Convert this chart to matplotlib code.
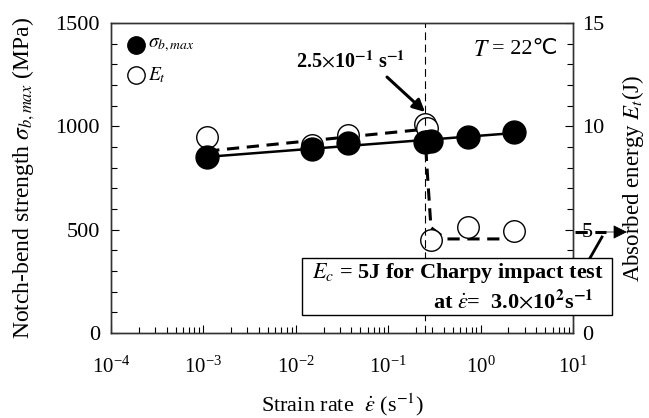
import matplotlib
matplotlib.use("Agg")
import matplotlib.pyplot as plt
import numpy as np
from matplotlib.patches import Rectangle
from matplotlib.lines import Line2D
from matplotlib.ticker import MultipleLocator, LogLocator, NullFormatter

plt.rcParams['font.family'] = ['Liberation Serif', 'DejaVu Serif']
plt.rcParams['mathtext.fontset'] = 'stix'
plt.rcParams['font.size'] = 16

# notch-bend strength vs strain rate
sig_rate = [1.1e-3, 0.015, 0.037, 0.25, 0.29, 0.73, 2.3]
sig_max = [850, 890, 918, 925, 930, 950, 972]

# absorbed energy vs strain rate
e_rate = [1.1e-3, 0.015, 0.037, 0.25, 0.26, 0.29, 0.73, 2.3]
e_t = [9.5, 9.1, 9.6, 10.1, 9.9, 4.5, 5.15, 4.95]

# trend of absorbed energy (drop at the transition rate)
trend_rate = [1.1e-3, 0.24, 0.25, 0.26, 0.29, 0.42, 2.0]
trend_e = [8.8, 9.85, 9.85, 8.3, 5.1, 4.55, 4.55]

transition_rate = 0.25
charpy_e = 5

W, H = 649, 418


def fx(px):
    return px / W


def fy(py):
    return (H - py) / H


fig = plt.figure(figsize=(6.49, 4.18), dpi=100)
ax = fig.add_axes([0.171, 0.2033, 0.712, 0.742])
ax2 = ax.twinx()

ax.set_xscale('log')
ax.set_xlim(1e-4, 1e1)
ax.set_ylim(0, 1500)
ax2.set_ylim(0, 15)

# straight fit through the strength data
coef = np.polyfit(np.log10(sig_rate), sig_max, 1)
xf = np.array([min(sig_rate), max(sig_rate)])
ax.plot(xf, np.polyval(coef, np.log10(xf)), color='black', lw=1.8, zorder=2)

ax2.plot(trend_rate, trend_e, color='black', lw=2.2, dashes=(4, 2.5), zorder=2)
ax.axvline(transition_rate, color='black', lw=0.8, dashes=(7, 4), zorder=1)

ax2.plot(e_rate, e_t, 'o', ms=15.5, mfc='white', mec='black', mew=1.0, zorder=3)
ax2.plot(sig_rate, np.array(sig_max) / 100, 'o', ms=16.5, color='black', zorder=4)

ax.set_zorder(ax2.get_zorder() + 1)
ax.patch.set_visible(False)

ax.tick_params(axis='both', which='both', direction='in', width=0.8)
ax.tick_params(which='major', length=6)
ax.tick_params(which='minor', length=4)
ax2.tick_params(axis='y', which='both', direction='in', width=0.8, labelsize=16, pad=6.5)
ax2.tick_params(which='major', length=6)
ax2.tick_params(which='minor', length=4)
ax.yaxis.set_major_locator(MultipleLocator(500))
ax.yaxis.set_minor_locator(MultipleLocator(100))
ax2.yaxis.set_major_locator(MultipleLocator(5))
ax2.yaxis.set_minor_locator(MultipleLocator(1))
ax.xaxis.set_minor_locator(LogLocator(base=10, subs=np.arange(2, 10)))
ax.xaxis.set_minor_formatter(NullFormatter())
ax.tick_params(axis='x', labelsize=15, pad=17)
ax.tick_params(axis='y', labelsize=16, pad=8)
for a in (ax, ax2):
    for s in a.spines.values():
        s.set_color('#333333')
        s.set_linewidth(1.0)

ax.set_ylabel(r'Notch-bend strength $\sigma_{b,max}$ (MPa)', fontsize=17, labelpad=13)
ax2.set_ylabel(r'Absorbed energy $E_t$(J)', fontsize=16.5, labelpad=11)
ax.set_xlabel(r'Strain rate  $\dot{\varepsilon}$ (s$^{-1}$)', fontsize=16, labelpad=10)

# legend drawn by hand in the upper-left corner
ax.plot([0.054], [0.929], 'o', ms=12.5, color='black', transform=ax.transAxes, clip_on=False)
ax.plot([0.054], [0.832], 'o', ms=12.5, mfc='white', mec='black', mew=1.0,
        transform=ax.transAxes, clip_on=False)
ax.text(0.080, 0.929, r'$\sigma_{b,max}$', transform=ax.transAxes, ha='left', va='center',
        fontsize=14)
ax.text(0.080, 0.832, r'$E_t$', transform=ax.transAxes, ha='left', va='center', fontsize=14)

temp = ax.text(fx(558), fy(50), '= 22℃', transform=fig.transFigure, ha='right', va='center',
               fontsize=16, family=['Liberation Serif', 'DejaVu Sans'])
ax.annotate(r'$T$', xy=(0, 0.5), xycoords=temp, ha='right', va='center', fontsize=17,
            xytext=(-2, 0), textcoords='offset points')

ax.text(0.0386, 1311, r'2.5$\times$10$^{\mathbf{-1}}$ s$^{\mathbf{-1}}$', ha='center', va='center',
        fontsize=14.5, fontweight='bold')
ax.annotate('', xy=(transition_rate, 1069), xytext=(0.097, 1238),
            arrowprops=dict(arrowstyle='-|>', color='black', lw=2.2, mutation_scale=18,
                            shrinkA=0, shrinkB=0))

# Charpy reference level on the energy axis
line_y = H - 232
fig.add_artist(Line2D([fx(575), fx(606)], [fy(232), fy(232)],
                      color='black', lw=2.2, dashes=(4, 2.5), zorder=6))
ax2.annotate('', xy=(627, line_y), xytext=(600, line_y), xycoords='figure pixels',
             textcoords='figure pixels',
             arrowprops=dict(arrowstyle='-|>', color='black', lw=0.5, mutation_scale=22,
                             shrinkA=0, shrinkB=0))
fig.add_artist(Line2D([fx(590), fx(602)], [fy(258), fy(237)], color='black', lw=2.0, zorder=6))

fig.add_artist(Rectangle((fx(302), fy(315)), 310 / W, 57 / H,
                         transform=fig.transFigure, facecolor='white', edgecolor='black',
                         lw=1.0, zorder=7))
fig.text(fx(312), fy(273), r'$E_c$ = 5J for Charpy impact test',
         ha='left', va='center', fontsize=16, fontweight='bold', zorder=8)
fig.text(fx(594), fy(302),
         r'at $\dot{\varepsilon}$=  3.0$\times$10$^{\mathbf{2}}$s$^{\mathbf{-1}}$',
         ha='right', va='center', fontsize=16, fontweight='bold', zorder=8)

fig.savefig('out.png', dpi=100)
